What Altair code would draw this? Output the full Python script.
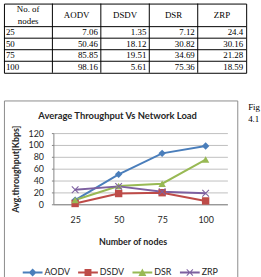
import altair as alt
import pandas as pd

# Throughput (Kbps) per routing protocol for each network size
nodes = ["25", "50", "75", "100"]
protocols = ["AODV", "DSDV", "DSR", "ZRP"]
aodv = [7.06, 50.46, 85.85, 98.16]
dsdv = [1.35, 18.12, 19.51, 5.61]
dsr = [7.12, 30.82, 34.69, 75.36]
zrp = [24.4, 30.16, 21.28, 18.59]
colors = ["#4A7EBB", "#BE4B48", "#98B954", "#7D60A0"]

chart_title = "Average Throughput Vs Network Load"
x_title = "Number of nodes"
y_title = "Avg.throughput[Kbps]"
y_ticks = [0, 20, 40, 60, 80, 100, 120]
node_header = ["No. of", "nodes"]
side_note = ["Fig", "4.1"]

series = {"AODV": aodv, "DSDV": dsdv, "DSR": dsr, "ZRP": zrp}

SERIF = "Liberation Serif"
SANS = "Lato"
INK = "#262626"

# ---------------- data table ----------------
row_keys = ["h1", "h2"] + nodes
col_keys = ["n"] + protocols

values_df = pd.DataFrame(
    [{"col": p, "row": n, "label": str(v)} for p, vals in series.items() for n, v in zip(nodes, vals)]
)
rowlab_df = pd.DataFrame({"col": "n", "row": nodes, "label": nodes})
proto_head_df = pd.DataFrame({"col": protocols, "row": "h1", "label": protocols})
node_head_df = pd.DataFrame({"col": "n", "row": ["h1", "h2"], "label": node_header})
hline_df = pd.DataFrame({"row": nodes})
vline_df = pd.DataFrame({"col": protocols})

tx = alt.Scale(domain=col_keys, paddingInner=0, paddingOuter=0)
ty = alt.Scale(domain=row_keys, paddingInner=0, paddingOuter=0)


def tcell(df, align, xband, yband, dx=0):
    return alt.Chart(df).mark_text(
        font=SERIF, fontSize=9, color="#000", align=align, baseline="middle", dx=dx
    ).encode(
        x=alt.X("col:N", scale=tx, bandPosition=xband, axis=None),
        y=alt.Y("row:N", scale=ty, bandPosition=yband, axis=None),
        text="label:N",
    )


table = alt.layer(
    alt.Chart(hline_df).mark_rule(color="#000", strokeWidth=1).encode(
        y=alt.Y("row:N", scale=ty, bandPosition=0, axis=None)
    ),
    alt.Chart(vline_df).mark_rule(color="#000", strokeWidth=1).encode(
        x=alt.X("col:N", scale=tx, bandPosition=0, axis=None)
    ),
    tcell(values_df, "right", 1, 0.5, dx=-3),
    tcell(rowlab_df, "left", 0, 0.5, dx=2),
    tcell(proto_head_df, "center", 0.5, 1),
    tcell(node_head_df, "center", 0.5, 0.5),
).properties(width=245, height=70, view=alt.ViewBackground(stroke="#000", strokeWidth=1))

# ---------------- line chart ----------------
long_df = pd.DataFrame(
    [{"nodes": n, "protocol": p, "value": v} for p, vals in series.items() for n, v in zip(nodes, vals)]
)

x_enc = alt.X(
    "nodes:N",
    sort=nodes,
    scale=alt.Scale(type="point", domain=nodes, range=[50, 226], padding=0.5),
    axis=alt.Axis(
        offset=-76, grid=False, ticks=False, tickSize=0, labelAngle=0, labelPadding=11,
        domainColor="#868686", labelFont=SANS, labelFontSize=9, labelColor=INK,
        title=x_title, titleFont=SANS, titleFontSize=9, titleFontWeight="bold",
        titleColor=INK, titlePadding=14, titleX=130,
    ),
)
y_enc = alt.Y(
    "value:Q",
    scale=alt.Scale(domain=[0, 120], range=[105, 33], nice=False, zero=True),
    axis=alt.Axis(
        values=y_ticks, offset=-50, grid=True, gridColor="#BFBFBF", gridWidth=1,
        domainColor="#868686", tickColor="#868686", tickSize=2, labelPadding=8,
        labelFont=SANS, labelFontSize=9, labelColor=INK,
        title=y_title, titleFont=SANS, titleFontSize=9, titleFontWeight="bold",
        titleColor=INK, titlePadding=8,
    ),
)

color_scale = alt.Scale(domain=protocols, range=colors)
x_mark = "M-1,-0.8L-0.8,-1L1,0.8L0.8,1Z M0.8,-1L1,-0.8L-0.8,1L-1,0.8Z"
marker_scale = alt.Scale(domain=protocols, range=["diamond", "square", "triangle-up", x_mark])

lines = alt.Chart(long_df).mark_line(strokeWidth=2).encode(
    x=x_enc, y=y_enc,
    color=alt.Color("protocol:N", scale=color_scale, legend=None),
    detail="protocol:N",
)
markers = alt.Chart(long_df).mark_point(filled=True, size=56, opacity=1).encode(
    x=x_enc, y=y_enc,
    color=alt.Color("protocol:N", scale=color_scale, legend=None),
    shape=alt.Shape("protocol:N", scale=marker_scale, legend=None),
)

# legend keys: a line stroke with the series marker on it
bar = "M-1,-0.1H1V0.1H-1Z "
legend_paths = [
    bar + "M0,-0.4L0.4,0L0,0.4L-0.4,0Z",
    bar + "M-0.35,-0.35H0.35V0.35H-0.35Z",
    bar + "M0,-0.4L0.4,0.35H-0.4Z",
    bar + "M-0.35,-0.28L-0.28,-0.35L0.35,0.28L0.28,0.35Z M0.28,-0.35L0.35,-0.28L-0.28,0.35L-0.35,0.28Z",
]
key_df = pd.DataFrame({"name": protocols})
legend_layer = alt.Chart(key_df).transform_filter("false").mark_point(
    filled=True, size=400, opacity=1
).encode(
    color=alt.Color(
        "name:N",
        scale=alt.Scale(domain=protocols, range=colors),
        legend=alt.Legend(
            orient="none", legendX=19, legendY=164, direction="horizontal", columns=4,
            title=None, symbolSize=400, symbolStrokeWidth=0, labelFont=SANS,
            labelFontSize=9, labelColor=INK, labelOffset=2, columnPadding=8, padding=0,
        ),
    ),
    shape=alt.Shape("name:N", scale=alt.Scale(domain=protocols, range=legend_paths)),
)

title_layer = alt.Chart(pd.DataFrame({"t": [chart_title]})).mark_text(
    font=SANS, fontSize=9.5, fontWeight="bold", color=INK, align="center", baseline="middle"
).encode(text="t:N", x=alt.value(115), y=alt.value(16))

note_layer = alt.Chart(pd.DataFrame({"t": ["\n".join(side_note)]})).mark_text(
    font=SERIF, fontSize=9, color="#000", align="left", baseline="top", lineBreak="\n", lineHeight=12
).encode(text="t:N", x=alt.value(247), y=alt.value(3))

plot = alt.layer(
    lines, markers, legend_layer, title_layer, note_layer
).resolve_scale(
    color="independent", shape="independent"
).properties(
    width=236, height=181, view=alt.ViewBackground(stroke="#8C8C8C", strokeWidth=1)
)

chart = alt.vconcat(table, plot, spacing=26).properties(
    padding={"left": 3, "top": 1, "right": 0, "bottom": 0}
).configure(background="white")

chart.save("out.html", embed_options={"renderer": "svg", "actions": False})
